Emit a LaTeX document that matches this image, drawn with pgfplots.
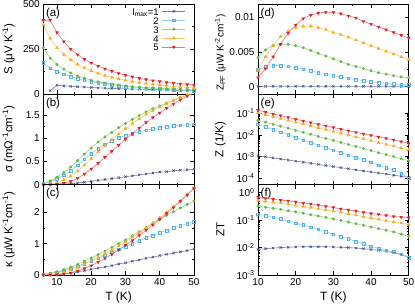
\documentclass[border=0pt]{standalone}
\usepackage{fontspec}
\setmainfont{Liberation Sans}
\usepackage{pgfplots}
\pgfplotsset{compat=1.18}
\definecolor{cA}{RGB}{60,70,140}\definecolor{lA}{RGB}{115,125,180}
\definecolor{cB}{RGB}{80,180,235}\definecolor{lB}{RGB}{145,208,242}
\definecolor{cC}{RGB}{100,185,70}\definecolor{lC}{RGB}{155,212,135}
\definecolor{cD}{RGB}{250,170,20}\definecolor{lD}{RGB}{250,200,115}
\definecolor{cE}{RGB}{230,30,40}\definecolor{lE}{RGB}{240,115,115}
\pgfplotsset{
 sA/.style={color=lA, line width=0.6pt, mark=x, mark size=1.6pt, mark options={draw=cA, line width=0.55pt}},
 sB/.style={color=lB, line width=0.6pt, mark=square, mark size=1.3pt, mark options={draw=cB, line width=0.5pt}},
 sC/.style={color=lC, line width=0.6pt, mark=*, mark size=1.2pt, mark options={draw=cC, fill=cC}},
 sD/.style={color=lD, line width=0.6pt, mark=triangle*, mark size=1.5pt, mark options={draw=cD, fill=cD}},
 sE/.style={color=lE, line width=0.6pt, mark=triangle*, mark size=1.5pt, mark options={draw=cE, fill=cE, rotate=180}},
 base/.style={scale only axis, width=150.7pt, height=90.3pt, anchor=south west,
  axis line style={line width=0.7pt}, tick style={line width=0.6pt, color=black},
  major tick length=4pt, minor tick length=2pt,
  ticklabel style={font=\fontsize{10}{10}\selectfont},
  label style={font=\fontsize{11.5}{12}\selectfont},
  /pgf/number format/assume math mode=true,
  scaled ticks=false,
  xtick={10,20,30,40,50}, minor x tick num=1, xmax=50,
  legend image code/.code={\draw[mark repeat=2,mark phase=2,##1] plot coordinates {(0cm,0cm) (0.4cm,0cm) (0.8cm,0cm)};}},
 lft/.style={base, xmin=6, ylabel style={at={(axis description cs:-0.23,0.5)},anchor=center}},
 rgt/.style={base, xmin=10, ylabel style={at={(axis description cs:-0.25,0.5)},anchor=center}},
 xl/.style={xlabel={T (K)}, xlabel style={at={(axis description cs:0.5,-0.245)},anchor=center, font=\fontsize{12}{12}\selectfont}},
}
\newcommand{\plab}[1]{\node[anchor=north west, font=\fontsize{11.5}{12}\selectfont, inner sep=1pt] at (rel axis cs:0.01,0.97) {#1};}
\begin{document}
\begin{tikzpicture}
\path[use as bounding box] (0,0) rectangle (415pt,305pt);
% (a)
\begin{axis}[lft, at={(43.3pt,210.7pt)}, ymin=0, ymax=500, ytick={0,250,500}, minor y tick num=1, xticklabels={},
 ylabel={S (μV K\textsuperscript{-1})},
 legend plot pos=right, legend cell align=right,
 legend style={draw=none, fill=none, at={(rel axis cs:0.945,0.97)}, anchor=north east, font=\fontsize{9.5}{9.5}\selectfont, row sep=0pt, inner sep=0pt, nodes={inner sep=0.5pt, text height=7.9pt, text depth=0pt}, /tikz/every odd column/.append style={column sep=3pt}}]
\addplot[sA] coordinates {(8,20)(10,50)(12,47)(14,44)(16,42)(18,40)(20,38)(22,36)(24,34)(26,33)(28,31)(30,30)(32,29)(34,28)(36,27)(38,26)(40,25)(42,24)(44,23)(46,22)(48,21)(50,20)};
\addplot[sB] coordinates {(6,175)(8,145)(10,126)(12,111)(14,98)(16,87)(18,78)(20,70)(22,63)(24,57)(26,52)(28,47)(30,43)(32,40)(34,37)(36,34)(38,32)(40,30)(42,28)(44,26)(46,24)(48,22)(50,21)};
\addplot[sC] coordinates {(6,258)(8,200)(10,165)(12,139)(14,118)(16,102)(18,89)(20,78)(22,69)(24,62)(26,56)(28,51)(30,46)(32,43)(34,40)(36,37)(38,35)(40,33)(42,31)(44,30)(46,29)(48,28)(50,27)};
\addplot[sD] coordinates {(6,385)(8,310)(10,258)(12,220)(14,190)(16,166)(18,146)(20,130)(22,116)(24,104)(26,94)(28,86)(30,78)(32,71)(34,65)(36,60)(38,55)(40,51)(42,47)(44,44)(46,41)(48,38)(50,36)};
\addplot[sE] coordinates {(6,410)(8,410)(10,342)(12,292)(14,250)(16,220)(18,195)(20,174)(22,156)(24,141)(26,128)(28,116)(30,106)(32,97)(34,89)(36,82)(38,76)(40,71)(42,66)(44,62)(46,58)(48,55)(50,52)};
\legend{l\textsubscript{max}=1,2,3,4,5}
\plab{(a)}
\end{axis}
% (b)
\begin{axis}[lft, at={(43.3pt,120.4pt)}, ymin=0, ymax=1.95, ytick={0,0.5,1,1.5}, yticklabels={0,0.5,1,1.5}, minor y tick num=1, xticklabels={},
 ylabel={σ (mΩ\textsuperscript{-1}cm\textsuperscript{-1})}]
\addplot[sA] coordinates {(6,0)(8,0)(10,0.005)(12,0.01)(14,0.02)(16,0.035)(18,0.05)(20,0.07)(22,0.09)(24,0.11)(26,0.13)(28,0.15)(30,0.17)(32,0.19)(34,0.21)(36,0.23)(38,0.25)(40,0.27)(42,0.28)(44,0.30)(46,0.31)(48,0.32)(50,0.33)};
\addplot[sB] coordinates {(6,0.02)(8,0.06)(10,0.12)(12,0.2)(14,0.3)(16,0.42)(18,0.55)(20,0.67)(22,0.78)(24,0.87)(26,0.95)(28,1.01)(30,1.06)(32,1.10)(34,1.14)(36,1.17)(38,1.20)(40,1.23)(42,1.25)(44,1.27)(46,1.28)(48,1.29)(50,1.30)};
\addplot[sC] coordinates {(6,0.02)(8,0.08)(10,0.16)(12,0.26)(14,0.38)(16,0.52)(18,0.66)(20,0.79)(22,0.92)(24,1.03)(26,1.13)(28,1.23)(30,1.32)(32,1.41)(34,1.49)(36,1.57)(38,1.64)(40,1.70)(42,1.76)(44,1.82)(46,1.88)(48,1.93)(50,1.97)};
\addplot[sD] coordinates {(6,0)(8,0.01)(10,0.04)(12,0.10)(14,0.18)(16,0.29)(18,0.42)(20,0.56)(22,0.70)(24,0.84)(26,0.97)(28,1.09)(30,1.21)(32,1.32)(34,1.42)(36,1.52)(38,1.60)(40,1.68)(42,1.75)(44,1.82)(46,1.88)(48,1.94)(50,1.99)};
\addplot[sE] coordinates {(6,0)(8,0)(10,0.01)(12,0.03)(14,0.07)(16,0.14)(18,0.23)(20,0.34)(22,0.46)(24,0.59)(26,0.72)(28,0.85)(30,0.98)(32,1.10)(34,1.22)(36,1.34)(38,1.45)(40,1.55)(42,1.65)(44,1.74)(46,1.83)(48,1.91)(50,1.99)};
\plab{(b)}
\end{axis}
% (c)
\begin{axis}[lft, xl, at={(43.3pt,30pt)}, ymin=0, ymax=2.88, ytick={0,1,2}, minor y tick num=1,
 ylabel={κ (μW K\textsuperscript{-1}cm\textsuperscript{-1})}]
\addplot[sA] coordinates {(6,0)(8,0.01)(10,0.02)(12,0.04)(14,0.06)(16,0.1)(18,0.14)(20,0.18)(22,0.22)(24,0.26)(26,0.3)(28,0.35)(30,0.39)(32,0.44)(34,0.48)(36,0.53)(38,0.57)(40,0.62)(42,0.66)(44,0.70)(46,0.74)(48,0.78)(50,0.83)};
\addplot[sB] coordinates {(6,0.02)(8,0.05)(10,0.09)(12,0.14)(14,0.2)(16,0.28)(18,0.36)(20,0.45)(22,0.54)(24,0.63)(26,0.72)(28,0.82)(30,0.91)(32,1.0)(34,1.09)(36,1.18)(38,1.26)(40,1.34)(42,1.42)(44,1.50)(46,1.57)(48,1.64)(50,1.70)};
\addplot[sC] coordinates {(6,0.02)(8,0.05)(10,0.1)(12,0.17)(14,0.25)(16,0.34)(18,0.44)(20,0.54)(22,0.65)(24,0.76)(26,0.88)(28,1.0)(30,1.12)(32,1.25)(34,1.38)(36,1.51)(38,1.64)(40,1.77)(42,1.90)(44,2.02)(46,2.14)(48,2.25)(50,2.36)};
\addplot[sD] coordinates {(6,0)(8,0.01)(10,0.04)(12,0.09)(14,0.16)(16,0.24)(18,0.34)(20,0.45)(22,0.56)(24,0.68)(26,0.8)(28,0.93)(30,1.06)(32,1.2)(34,1.35)(36,1.5)(38,1.66)(40,1.83)(42,2.0)(44,2.18)(46,2.37)(48,2.57)(50,2.78)};
\addplot[sE] coordinates {(6,0)(8,0)(10,0.01)(12,0.03)(14,0.07)(16,0.13)(18,0.21)(20,0.3)(22,0.41)(24,0.53)(26,0.66)(28,0.8)(30,0.95)(32,1.1)(34,1.26)(36,1.43)(38,1.6)(40,1.78)(42,1.96)(44,2.15)(46,2.35)(48,2.55)(50,2.76)};
\plab{(c)}
\end{axis}
% (d)
\begin{axis}[rgt, at={(258pt,210.7pt)}, ymin=-0.0011, ymax=0.0119, ytick={0,0.005,0.01}, yticklabels={0,0.005,0.01}, minor y tick num=1, xticklabels={}, scaled y ticks=false,
 ylabel={Z\textsubscript{PF} (μW K\textsuperscript{-2}cm\textsuperscript{-1})}, ylabel style={font=\fontsize{10}{10}\selectfont, at={(axis description cs:-0.25,0.46)}}]
\addplot[sA] coordinates {(10,0.00003)(12,0.00004)(14,0.00005)(16,0.00005)(18,0.00005)(20,0.00005)(22,0.00005)(24,0.00005)(26,0.00005)(28,0.00005)(30,0.00005)(32,0.00005)(34,0.00004)(36,0.00004)(38,0.00004)(40,0.00004)(42,0.00004)(44,0.00004)(46,0.00003)(48,0.00003)(50,0.00003)};
\addplot[sB] coordinates {(10,0.00245)(12,0.0029)(14,0.00305)(16,0.00303)(18,0.00293)(20,0.00275)(22,0.00252)(24,0.00228)(26,0.00204)(28,0.00181)(30,0.0016)(32,0.00139)(34,0.0012)(36,0.00102)(38,0.00086)(40,0.00072)(42,0.0006)(44,0.00048)(46,0.00039)(48,0.0003)(50,0.00024)};
\addplot[sC] coordinates {(10,0.0042)(12,0.0053)(14,0.0059)(16,0.0061)(18,0.0061)(20,0.0059)(22,0.0056)(24,0.0052)(26,0.0048)(28,0.0044)(30,0.0040)(32,0.0036)(34,0.0032)(36,0.0029)(38,0.0026)(40,0.0023)(42,0.0020)(44,0.0018)(46,0.0016)(48,0.0014)(50,0.0013)};
\addplot[sD] coordinates {(10,0.0024)(12,0.0043)(14,0.0059)(16,0.0072)(18,0.0080)(20,0.0085)(22,0.0087)(24,0.0087)(26,0.0085)(28,0.0082)(30,0.0078)(32,0.0075)(34,0.0071)(36,0.0067)(38,0.0063)(40,0.0059)(42,0.0055)(44,0.0051)(46,0.0047)(48,0.0043)(50,0.0039)};
\addplot[sE] coordinates {(10,0.0013)(12,0.0026)(14,0.0043)(16,0.0061)(18,0.0077)(20,0.0089)(22,0.0098)(24,0.0103)(26,0.0106)(28,0.0107)(30,0.0107)(32,0.0105)(34,0.0102)(36,0.0099)(38,0.0094)(40,0.0090)(42,0.0086)(44,0.0082)(46,0.0078)(48,0.0074)(50,0.0070)};
\plab{(d)}
\end{axis}
% (e)
\begin{axis}[rgt, at={(258pt,120.4pt)}, ymode=log, ymin=5.1e-5, ymax=0.75, ytick={1e-4,1e-3,1e-2,1e-1}, yticklabels={10\textsuperscript{-4},10\textsuperscript{-3},10\textsuperscript{-2},10\textsuperscript{-1}}, xticklabels={},
 ylabel={Z (1/K)}]
\addplot[sA] coordinates {(10,0.00110)(12,0.000977)(14,0.000871)(16,0.000776)(18,0.000692)(20,0.000617)(22,0.000550)(24,0.000490)(26,0.000437)(28,0.000389)(30,0.000347)(32,0.000309)(34,0.000275)(36,0.000245)(38,0.000219)(40,0.000195)(42,0.000174)(44,0.000155)(46,0.000138)(48,0.000123)(50,0.000110)};
\addplot[sB] coordinates {(10,0.0309)(12,0.0234)(14,0.0178)(16,0.0135)(18,0.0105)(20,0.00759)(22,0.00575)(24,0.00447)(26,0.00339)(28,0.00263)(30,0.00200)(32,0.00155)(34,0.00117)(36,0.000912)(38,0.000724)(40,0.000537)(42,0.000407)(44,0.000309)(46,0.000240)(48,0.000170)(50,0.000100)};
\addplot[sC] coordinates {(10,0.0479)(12,0.0389)(14,0.0309)(16,0.0251)(18,0.0204)(20,0.0162)(22,0.0132)(24,0.0107)(26,0.00851)(28,0.00692)(30,0.00562)(32,0.00447)(34,0.00363)(36,0.00295)(38,0.00234)(40,0.00191)(42,0.00151)(44,0.00123)(46,0.00100)(48,0.000794)(50,0.000646)};
\addplot[sD] coordinates {(10,0.105)(12,0.0851)(14,0.0692)(16,0.0569)(18,0.0468)(20,0.0385)(22,0.0316)(24,0.0260)(26,0.0214)(28,0.0176)(30,0.0145)(32,0.0119)(34,0.00977)(36,0.00804)(38,0.00661)(40,0.00543)(42,0.00447)(44,0.00367)(46,0.00302)(48,0.00251)(50,0.00209)};
\addplot[sE] coordinates {(10,0.138)(12,0.112)(14,0.0933)(16,0.0776)(18,0.0646)(20,0.0537)(22,0.0447)(24,0.0372)(26,0.0309)(28,0.0263)(30,0.0219)(32,0.0186)(34,0.0155)(36,0.0132)(38,0.0112)(40,0.00955)(42,0.00813)(44,0.00692)(46,0.00589)(48,0.00490)(50,0.00407)};
\plab{(e)}
\end{axis}
% (f)
\begin{axis}[rgt, xl, at={(258pt,30pt)}, ymode=log, ymin=1e-3, ymax=1.95, ytick={1e-3,1e-2,1e-1,1}, yticklabels={10\textsuperscript{-3},10\textsuperscript{-2},10\textsuperscript{-1},10\textsuperscript{0}},
 ylabel={ZT}]
\addplot[sA] coordinates {(10,0.00851)(12,0.00912)(14,0.00955)(16,0.0100)(18,0.0102)(20,0.0105)(22,0.0107)(24,0.0107)(26,0.0107)(28,0.0107)(30,0.0105)(32,0.0102)(34,0.0100)(36,0.00955)(38,0.00912)(40,0.00851)(42,0.00794)(44,0.00724)(46,0.00646)(48,0.00550)(50,0.00457)};
\addplot[sB] coordinates {(10,0.166)(12,0.145)(14,0.126)(16,0.110)(18,0.0912)(20,0.0776)(22,0.0661)(24,0.0550)(26,0.0457)(28,0.0372)(30,0.0309)(32,0.0251)(34,0.0209)(36,0.0166)(38,0.0135)(40,0.0112)(42,0.00912)(44,0.00794)(46,0.00692)(48,0.00575)(50,0.00427)};
\addplot[sC] coordinates {(10,0.324)(12,0.295)(14,0.269)(16,0.245)(18,0.219)(20,0.200)(22,0.178)(24,0.158)(26,0.141)(28,0.126)(30,0.110)(32,0.0977)(34,0.0851)(36,0.0741)(38,0.0646)(40,0.0562)(42,0.0490)(44,0.0427)(46,0.0372)(48,0.0309)(50,0.0257)};
\addplot[sD] coordinates {(10,0.513)(12,0.479)(14,0.447)(16,0.417)(18,0.380)(20,0.347)(22,0.316)(24,0.288)(26,0.263)(28,0.234)(30,0.214)(32,0.191)(34,0.170)(36,0.151)(38,0.135)(40,0.120)(42,0.107)(44,0.0955)(46,0.0851)(48,0.0776)(50,0.0692)};
\addplot[sE] coordinates {(10,0.676)(12,0.617)(14,0.575)(16,0.537)(18,0.501)(20,0.457)(22,0.417)(24,0.389)(26,0.355)(28,0.316)(30,0.288)(32,0.257)(34,0.234)(36,0.214)(38,0.191)(40,0.174)(42,0.162)(44,0.148)(46,0.135)(48,0.129)(50,0.123)};
\plab{(f)}
\end{axis}
\end{tikzpicture}
\end{document}
